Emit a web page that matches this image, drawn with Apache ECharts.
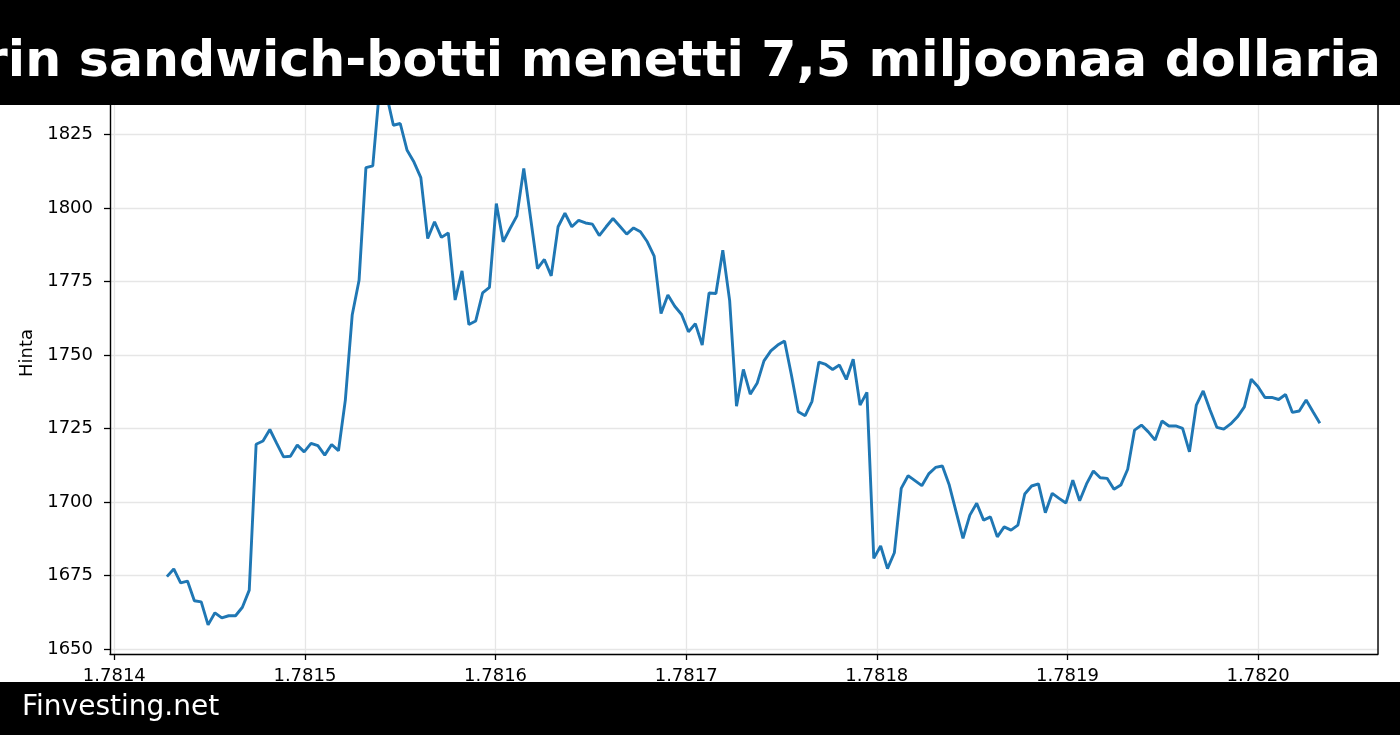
<!DOCTYPE html>
<html>
<head>
<meta charset="utf-8">
<script src="https://cdn.jsdelivr.net/npm/echarts@6/dist/echarts.min.js"></script>
<style>
  html, body { margin: 0; padding: 0; background: #fff; }
  #main { width: 1400px; height: 735px; }
</style>
</head>
<body>
<div id="main"></div>
<script>
// otsikko ja lähde
const titleText = 'Ethereum-operaattorin sandwich-botti menetti 7,5 miljoonaa dollaria';
const sourceText = 'Finvesting.net';
const yName = 'Hinta';

// aikaleimat: tunnin välein (sekunteina), akselilla yksikkö 1e9
const startTime = 1781427600;
const stepSeconds = 3600;

// hinnat kuvasta luettuina
const prices = [
  1674.7, 1677.3, 1672.6, 1673.2, 1666.5, 1666.1, 1658.3, 1662.4, 1660.7, 1661.4,
  1661.4, 1664.3, 1670.1, 1719.7, 1720.8, 1724.7, 1720.0, 1715.4, 1715.6, 1719.4,
  1717.1, 1720.0, 1719.2, 1716.0, 1719.6, 1717.5, 1734.7, 1763.6, 1775.4, 1813.7,
  1814.3, 1841.0, 1838.5, 1828.1, 1828.7, 1819.6, 1815.6, 1810.3, 1789.6, 1795.3,
  1790.0, 1791.5, 1768.7, 1778.6, 1760.4, 1761.6, 1771.1, 1773.0, 1801.5, 1788.5,
  1793.0, 1797.3, 1813.4, 1796.5, 1779.4, 1782.5, 1776.9, 1793.6, 1798.2, 1793.6,
  1795.8, 1794.9, 1794.5, 1790.6, 1793.6, 1796.4, 1793.8, 1791.1, 1793.2, 1791.9,
  1788.5, 1783.6, 1764.1, 1770.4, 1766.6, 1763.8, 1757.9, 1760.7, 1753.4, 1771.1,
  1770.9, 1785.6, 1768.5, 1732.6, 1745.1, 1736.7, 1740.4, 1748.0, 1751.4, 1753.4,
  1754.8, 1743.2, 1730.7, 1729.4, 1734.3, 1747.6, 1746.8, 1745.1, 1746.6, 1741.7,
  1748.6, 1733.0, 1737.3, 1680.9, 1685.1, 1677.4, 1682.8, 1704.7, 1709.0, 1707.3,
  1705.6, 1709.6, 1711.8, 1712.3, 1705.8, 1696.7, 1687.7, 1695.6, 1699.6, 1693.9,
  1695.0, 1688.2, 1691.6, 1690.5, 1692.2, 1702.8, 1705.5, 1706.2, 1696.4, 1703.0,
  1701.3, 1699.7, 1707.5, 1700.5, 1706.2, 1710.6, 1708.3, 1708.1, 1704.4, 1705.8,
  1711.2, 1724.5, 1726.2, 1723.9, 1721.1, 1727.6, 1725.9, 1725.9, 1725.1, 1717.1,
  1733.0, 1737.8, 1731.3, 1725.4, 1724.8, 1726.6, 1729.0, 1732.4, 1741.8, 1739.2,
  1735.6, 1735.6, 1734.9, 1736.6, 1730.5, 1731.0, 1734.7, 1730.7, 1726.8
];

const points = prices.map((p, i) => [startTime + i * stepSeconds, p]);

const font = 'DejaVu Sans';
const chart = echarts.init(document.getElementById('main'));

chart.setOption({
  backgroundColor: '#ffffff',
  animation: false,
  grid: { left: 110, right: 22, top: 52, bottom: 81, containLabel: false },
  xAxis: {
    type: 'value',
    min: 1781397750,
    max: 1782062900,
    minInterval: 100000,
    maxInterval: 100000,
    axisLine: { show: true, onZero: false, lineStyle: { color: '#000', width: 1.4 } },
    axisTick: { show: true, length: 6, lineStyle: { color: '#000', width: 1.3 } },
    axisLabel: {
      color: '#000', fontFamily: font, fontSize: 18, margin: 13,
      showMinLabel: false, showMaxLabel: false,
      formatter: v => (v / 1e9).toFixed(4)
    },
    splitLine: { show: true, lineStyle: { color: '#e6e6e6', width: 1.3 } }
  },
  yAxis: {
    type: 'value',
    min: 1648.4,
    max: 1853.0,
    minInterval: 25,
    maxInterval: 25,
    name: yName,
    nameLocation: 'middle',
    nameGap: 64,
    nameTextStyle: { color: '#000', fontFamily: font, fontSize: 18 },
    axisLine: { show: true, lineStyle: { color: '#000', width: 1.4 } },
    axisTick: { show: true, length: 6, lineStyle: { color: '#000', width: 1.3 } },
    axisLabel: {
      color: '#000', fontFamily: font, fontSize: 18, margin: 17,
      showMinLabel: false, showMaxLabel: false,
      formatter: v => String(Math.round(v))
    },
    splitLine: { show: true, lineStyle: { color: '#e6e6e6', width: 1.3 } }
  },
  series: [
    {
      type: 'line',
      data: points,
      showSymbol: false,
      lineStyle: { color: '#1f77b4', width: 2.9 },
      itemStyle: { color: '#1f77b4' }
    }
  ],
  graphic: [
    // oikea reuna (kehys)
    {
      type: 'line', z: 50,
      shape: { x1: 1378, y1: 52, x2: 1378, y2: 654 },
      style: { stroke: '#000', lineWidth: 1.4 }
    },
    {
      type: 'rect', z: 100,
      shape: { x: 0, y: 0, width: 1400, height: 105 },
      style: { fill: '#000' }
    },
    {
      type: 'text', z: 101,
      style: {
        text: titleText, x: 1381, y: 63,
        fill: '#fff', font: 'bold 50.6px "DejaVu Sans"',
        textAlign: 'right', textVerticalAlign: 'middle'
      }
    },
    {
      type: 'rect', z: 100,
      shape: { x: 0, y: 682, width: 1400, height: 53 },
      style: { fill: '#000' }
    },
    {
      type: 'text', z: 101,
      style: {
        text: sourceText, x: 22, y: 708,
        fill: '#fff', font: '28px "DejaVu Sans"',
        textAlign: 'left', textVerticalAlign: 'middle'
      }
    }
  ]
});
</script>
</body>
</html>
